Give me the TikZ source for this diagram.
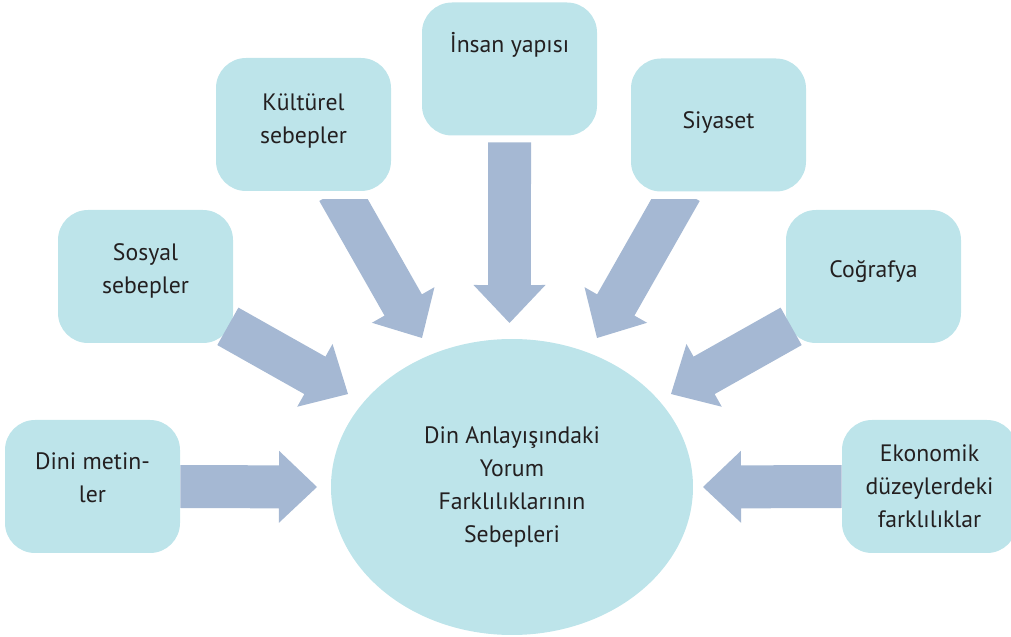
\documentclass[tikz,border=0pt]{standalone}
\usepackage{fontspec}
\setmainfont{PT Sans}
\usetikzlibrary{calc, shapes.geometric}
\definecolor{boxcyan}{HTML}{BDE4EA}
\definecolor{arrowblue}{HTML}{A5B8D3}
\definecolor{textdark}{HTML}{231F20}

\begin{document}
\begin{tikzpicture}[font=\fontsize{13.5}{18.8}\selectfont, text=textdark,
    sebep/.style={fill=boxcyan, rounded corners=0.6cm, minimum width=3.5cm,
      minimum height=2.66cm, align=center, inner sep=0pt},
    blokok/.style={fill=arrowblue, to path={
      ($(\tikztostart)!0.43cm!90:(\tikztotarget)$)
      -- ($(\tikztotarget)!0.873cm!-29.5:(\tikztostart)$)
      -- ($(\tikztotarget)!1.047cm!-43.45:(\tikztostart)$)
      -- (\tikztotarget)
      -- ($(\tikztotarget)!1.047cm!43.45:(\tikztostart)$)
      -- ($(\tikztotarget)!0.873cm!29.5:(\tikztostart)$)
      -- ($(\tikztostart)!0.43cm!-90:(\tikztotarget)$)
      -- cycle}}]
  \useasboundingbox (0,0) rectangle (20.22,12.72);

  % Sebepler
  \node[sebep, text depth=0.36cm] (dini) at (1.85,2.99) {Dini metin-\\ler};
  \node[sebep, text depth=0.32cm] (sosyal) at (2.91,7.19) {Sosyal\\sebepler};
  \node[sebep, text depth=0.24cm] (kultur) at (6.07,10.23) {Kültürel\\sebepler};
  \node[sebep, text height=0.3cm, text depth=0.94cm] (insan) at (10.19,11.34) {İnsan yapısı};
  \node[sebep, text depth=0.18cm] (siyaset) at (14.37,10.22) {Siyaset};
  \node[sebep, text depth=0.3cm] (cografya) at (17.47,7.19) {Coğrafya};
  \node[sebep] (ekonomik) at (18.59,2.99) {Ekonomik\\düzeylerdeki\\farklılıklar};

  % Merkez
  \node[ellipse, fill=boxcyan, minimum width=7.24cm, minimum height=5.92cm, align=center]
    (din) at (10.24,2.98) {Din Anlayışındaki\\Yorum\\Farklılıklarının\\Sebepleri};

  % Ok uçları
  \coordinate (dini-out) at (dini.east);
  \coordinate (ekonomik-out) at (ekonomik.west);
  \coordinate (insan-out) at ([yshift=-0.13cm]insan.south);
  \coordinate (sosyal-out) at ([shift={(-0.11,0.34)}]sosyal.south east);
  \coordinate (kultur-out) at ([shift={(0.69,0.02)}]kultur.south);
  \coordinate (siyaset-out) at ([shift={(-0.75,0.03)}]siyaset.south);
  \coordinate (cografya-out) at ([shift={(0.11,0.34)}]cografya.south west);

  \coordinate (dini-in) at (6.34,2.98);
  \coordinate (ekonomik-in) at (14.06,2.98);
  \coordinate (insan-in) at (10.19,6.26);
  \coordinate (sosyal-in) at (6.96,4.84);
  \coordinate (kultur-in) at (8.44,5.96);
  \coordinate (siyaset-in) at (11.94,5.96);
  \coordinate (cografya-in) at (13.42,4.84);

  % Oklar
  \path[blokok] (dini-out) to (dini-in);
  \path[blokok] (ekonomik-out) to (ekonomik-in);
  \path[blokok] (insan-out) to (insan-in);
  \path[blokok] (sosyal-out) to (sosyal-in);
  \path[blokok] (cografya-out) to (cografya-in);
  \begin{scope}
    \clip (0,0) rectangle (20.22,8.72);
    \path[blokok] (kultur-out) to (kultur-in);
    \path[blokok] (siyaset-out) to (siyaset-in);
  \end{scope}
\end{tikzpicture}
\end{document}
